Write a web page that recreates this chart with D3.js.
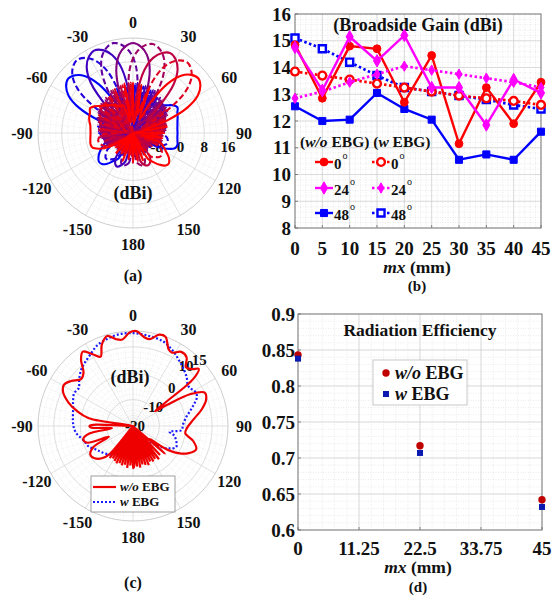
<!DOCTYPE html>
<html>
<head>
<meta charset="utf-8">
<script src="https://cdn.jsdelivr.net/npm/d3@7/dist/d3.min.js"></script>
<style>
body { margin: 0; background: #fff; }
svg text { font-family: "Liberation Serif", "Times New Roman", serif; font-weight: bold; fill: #111; }
</style>
</head>
<body>
<svg id="fig" width="558" height="596"></svg>
<script>
// ---------- (a) beam patterns (dBi), one value every 5 deg ----------
var beamSteer  = [-50, -37.5, -25, -12.5, 0, 12.5, 25, 37.5, 50];
var beamStart  = [-180, -177.5, -180, -177.5, -180, -177.5, -180, -177.5, -180];
var beamDashed = [false, true, false, true, false, true, false, true, false];

var beam1 = [-8.5,-16,-8,-16,-9,-13,-6,-4.5,-2.5,-1.2,-1,-1.8,
  -3,-4.5,-6,-16,-6.5,-11,-4.5,-16,-4,-12,-4,4,
  9,11.5,12.5,11.5,9,4,-4,-10,0,-12,0.5,-9,
  0.5,-11,0,-16,-6,-6,-5.3,-4.5,-3.8,-2.8,-1.5,0.3,
  1.3,0.5,0,-0.5,-0.8,-1,-1,-1,-0.8,-0.5,-1,-3.5,
  -6.7,-13,-8.5,-16,-9,-16,-8,-16,-9,-16,-8,-16];
var beam2 = [-9,-16,-8.5,-16,-9,-16,-6,-5,-3.7,-3.5,-4.5,-6,
  -12,-6.5,-16,-6,-10,-5,-13,-4.5,-11,-4,-3,-16,
  -4,6.5,11.5,14,15,14,11.5,6.5,-4,-12,0,-10,
  0.5,-13,0,-9,-0.5,-16,-1.5,-11,-2,-12,-2.5,-16,
  -3.5,-11,-4.5,-16,-5,-12,-6,-4.5,-4,-4,-5,-6.5,
  -16,-8.5,-16,-9,-13,-8.5,-16,-9,-16,-8.5,-16,-9];
var beam3 = [-16,-9,-16,-6,-4.5,-3.5,-4,-6,-13,-8.5,-16,-9,
  -12,-6,-16,-6.5,-11,-5,-13,-4.5,-10,-4.5,-12,-3.5,
  -10,-2,-13,-4,6.2,11.2,13.7,14.7,13.7,11.2,6.2,-4,
  -16,1,-9,0.5,-12,0,-10,-1.5,-16,-2,-11,-2.5,
  -13,-4,-10,-4.5,-16,-5,-12,-6,-11,-6,-16,-6.5,
  -13,-8.5,-16,-9,-16,-8.5,-16,-9,-16,-9,-13,-8.5];
var beam4 = [-16,-6,-5,-4.5,-5.5,-16,-9,-16,-8.5,-16,-9,-13,
  -6.5,-12,-6,-16,-5,-11,-4.5,-13,-4,-10,-3,-12,
  -2.5,-9,-1.5,-13,-16,-4,6.5,11.5,14,15,14,11.5,
  6.5,-4,-12,0.5,-10,0,-16,-1,-11,-1.5,-9,-2,
  -12,-3.5,-16,-4.5,-10,-5.5,-13,-6,-11,-6,-16,-6.5,
  -16,-8.5,-16,-9,-13,-8.5,-16,-9,-16,-8.5,-16,-8];
var beam5 = [-6,-13,-8,-16,-8.5,-16,-9,-16,-8.5,-13,-9,-16,
  -6.5,-11,-6,-13,-5.5,-12,-5,-10,-4.5,-16,-3.5,-11,
  -2.5,-12,-2,-9,-1.5,-13,-0.5,-10,-4,5.8,10.8,13.3,
  14.3,13.3,10.8,5.8,-4,-11,-0.5,-16,-1.5,-9,-2,-12,
  -3,-10,-4,-13,-4.5,-11,-5.5,-16,-6.5,-12,-6,-16,
  -8.5,-16,-9,-16,-8.5,-13,-9,-16,-8,-16,-6.5,-12];
var beam6 = [-8,-16,-9,-16,-8.5,-13,-9,-16,-8.5,-16,-9,-16,
  -6.5,-13,-6,-11,-5,-12,-4.5,-16,-4,-10,-3,-13,
  -2,-11,-1.5,-9,-1,-16,0,-10,0.5,-12,-4,6.2,
  11.2,13.7,14.7,13.7,11.2,6.2,-4,-13,-1,-10,-2,-12,
  -3,-16,-4.5,-11,-5,-13,-6,-12,-6.5,-16,-6,-13,
  -8.5,-16,-9,-16,-8.5,-16,-9,-5.5,-4.5,-5,-6,-13];
var beam7 = [-16,-8.5,-16,-9,-13,-9,-16,-8.5,-16,-9,-16,-8.5,
  -11,-6.5,-13,-6,-10,-5,-12,-4.5,-16,-4.5,-11,-3.5,
  -9,-2.5,-12,-2,-16,-1.5,-10,0,-13,0.5,-11,1,
  -12,-4,5.2,10.2,12.7,13.7,12.7,10.2,5.2,-4,-10,-2.5,
  -13,-4,-11,-4.5,-16,-5,-10,-6,-12,-6,-16,-6.5,
  -16,-8,-16,-9,-13,-6,-4.5,-4,-4.5,-6,-16,-9];
var beam8 = [-16,-8.5,-16,-9,-16,-8.5,-13,-9,-16,-8.5,-16,-9,
  -6.5,-5,-4.2,-4,-4.5,-6,-12,-4.5,-16,-4,-11,-3,
  -13,-2,-10,-1.5,-12,-1,-9,0,-16,0.5,-11,1,
  -12,0.5,-10,-4,5.5,10.5,13,14,13,10.5,5.5,-4,
  -11,-4,-13,-4.5,-10,-5.5,-16,-6,-12,-6.5,-16,-6,
  -4.5,-3.8,-4,-5,-6,-16,-9,-16,-8.5,-13,-9,-16];
var beam9 = [-6,-13,-7,-16,-6,-12,-8,-16,-7,-16,-8.5,-13,
  -6.5,-3.5,-1.5,-1.2,-1.4,-1.6,-1.7,-1.6,-1.4,-0.8,-0.3,0,
  0.7,-0.3,-1.8,-2.8,-3.8,-4.5,-5.3,-6,-6,-12,1,-10,
  1,-13,0.5,-9,0,-11,-4,4.2,9.2,11.7,12.7,11.7,
  9.2,4.2,-4,-12,-4.5,-16,-5.5,-10,-6,-13,-6,-4.5,
  -3,-1.2,-0.2,-0.5,-2,-4,-6,-16,-6,-16,-6.5,-12];
var beams = [beam1, beam2, beam3, beam4, beam5, beam6, beam7, beam8, beam9];

// ---------- (b) broadside gain vs mx ----------
var mxB = [0, 5, 10, 15, 20, 25, 30, 35, 40, 45];
var gain0_wo  = [14.85, 12.85, 14.8, 14.7, 12.7, 14.45, 11.15, 13.25, 11.9, 13.45];
var gain0_w   = [13.85, 13.7, 13.55, 13.4, 13.25, 13.1, 12.95, 12.85, 12.75, 12.6];
var gain24_wo = [14.75, 13.15, 15.15, 14.25, 15.2, 13.25, 13.25, 11.85, 13.55, 13.05];
var gain24_w  = [12.85, 13.1, 13.45, 13.75, 14.05, 13.9, 13.75, 13.6, 13.45, 13.25];
var gain48_wo = [12.55, 12.0, 12.05, 13.05, 12.45, 12.05, 10.55, 10.75, 10.55, 11.6];
var gain48_w  = [15.1, 14.7, 14.2, 13.7, 13.25, 13.1, 12.95, 12.8, 12.6, 12.45];

// ---------- (c) pattern with / without EBG, [angle deg, dBi] ----------
var patC_wo = [[-180,-4],[-178,-20],[-176,-5],[-174,-20],[-172,-4],[-170,-20],[-168,-5],[-166,-20],[-164,-4.5],[-162,-20],
  [-160,-5],[-158,-20],[-156,-4.5],[-154,-20],[-152,-5],[-150,-20],[-148,-5.5],[-146,-20],[-144,-5],[-142,-20],
  [-140,-6],[-136,-3],[-130,-1],[-124,-0.5],[-118,-3],[-114,-10],[-110,-1.5],[-105,-0.5],[-100,-3],[-96,-12],
  [-92,-4],[-90,-3.5],[-88,-6],[-85,-20],[-80,-3],[-75,2],[-70,6],[-64,9.5],[-59,10.5],[-54,9],[-48,6.5],[-43,7.5],
  [-38,12],[-34,14],[-29,11],[-25,9],[-21,13],[-16,15.5],[-11,13.5],[-7,13],[-2,15.5],[2,16.5],[7,14],[11,13.5],
  [16,16],[20,16],[25,12],[28,11.5],[33,13.5],[38,13],[42,10],[46,11],[49,13],[52,9],[54,-5],[56,-10],[58,-5],
  [61,5],[65,10],[70,9.5],[76,7],[84,3],[92,0.5],[98,0],[104,3.5],[110,5.5],[116,3.5],[121,0],[125,-5],[128,-12],
  [131,-4],[134,-20],[137,-5],[140,-20],[142,-4],[144,-20],[146,-5],[148,-20],[150,-4.5],[152,-20],[154,-5],
  [156,-20],[158,-4],[160,-20],[162,-4.5],[164,-20],[166,-5],[168,-20],[170,-4],[172,-20],[174,-4.5],[176,-20],[178,-5]];
var patC_w = [[-180,-14],[-172,-11],[-166,-15],[-160,-12],[-154,-10],[-148,-8],[-140,-6],[-130,-4.5],[-124,-3.7],
  [-115,-1.5],[-106,-0.5],[-98,1.5],[-91,2.5],[-84,2.9],[-75,3.5],[-68,4.5],[-61,5.5],[-55,5.1],[-49,7],[-43,8.9],
  [-38,10],[-31,11.5],[-24,13.4],[-16,14.5],[-8,15.2],[0,15.2],[8,14.8],[19,14.1],[27,12.5],[35,10.4],[42,8.8],
  [48,7.4],[53,6],[56,5.9],[59,6.5],[62,7],[66,6.5],[70,4.7],[75,2.5],[80,0.6],[88,-1],[95,-1.6],[99,-6],[103,-4],
  [110,-2.5],[116,-1.8],[121,-3.5],[126,-6.1],[132,-10],[138,-12],[144,-11],[150,-14],[156,-12],[162,-15],[168,-12],[174,-14]];

// ---------- (d) radiation efficiency ----------
var mxD = [0, 22.5, 45];
var eff_wo = [0.843, 0.717, 0.642];
var eff_w  = [0.838, 0.707, 0.632];

var thetaTicks  = [0, 30, 60, 90, 120, 150, 180, 210, 240, 270, 300, 330];
var thetaLabels = ["0", "30", "60", "90", "120", "150", "180", "-150", "-120", "-90", "-60", "-30"];

var svg = d3.select("#fig");
var rad = Math.PI / 180;

// POLAR AXES: GRID + ANGLE LABELS
function polarAxes(cx, cy, R, r, majors, minorStep) {
  var g = svg.append("g").attr("transform", "translate(" + cx + "," + cy + ")");
  var dom = r.domain();
  d3.range(dom[0], dom[1] + 1e-6, minorStep).forEach(function(v) {
    g.append("circle").attr("r", r(v)).attr("fill", "none")
      .attr("stroke", "#d8d8d8").attr("stroke-width", 0.5).attr("stroke-dasharray", "1,1.5");
  });
  d3.range(0, 360, 6).forEach(function(a) {
    if (a % 30 == 0) return;
    g.append("line").attr("x2", R * Math.sin(a * rad)).attr("y2", -R * Math.cos(a * rad))
      .attr("stroke", "#dcdcdc").attr("stroke-width", 0.5).attr("stroke-dasharray", "1,1.5");
  });
  majors.forEach(function(v) {
    g.append("circle").attr("r", r(v)).attr("fill", "none").attr("stroke", "#d4d4d4").attr("stroke-width", 0.7);
  });
  thetaTicks.forEach(function(a) {
    g.append("line").attr("x2", R * Math.sin(a * rad)).attr("y2", -R * Math.cos(a * rad))
      .attr("stroke", "#d4d4d4").attr("stroke-width", 0.7);
  });
  g.append("circle").attr("r", R).attr("fill", "none").attr("stroke", "#c4c4c4").attr("stroke-width", 0.8);
  thetaTicks.forEach(function(a, i) {
    g.append("text").attr("x", (R + 16) * Math.sin(a * rad)).attr("y", -(R + 16) * Math.cos(a * rad))
      .attr("dy", "0.35em").attr("text-anchor", "middle").style("font-size", "16px").text(thetaLabels[i]);
  });
  return g;
}

// ===== (a) =====
var R = 95;
var rA = d3.scaleLinear().domain([-16, 16]).range([0, R]).clamp(true);
var gA = polarAxes(133, 133, R, rA, [-8, 0, 8], 2);
[-16, -8, 0, 8, 16].forEach(function(v) {
  gA.append("text").attr("x", rA(v)).attr("y", 14).attr("dy", "0.35em").attr("text-anchor", "middle")
    .style("font-size", "15px").text(v);
});
var beamColor = d3.interpolateRgb("#0000ff", "#ff0000");
var radialA = d3.lineRadial()
  .angle(function(d) { return d[0] * rad; })
  .radius(function(d) { return rA(d[1]); })
  .curve(d3.curveCatmullRomClosed.alpha(0.5));
beams.forEach(function(b, k) {
  var pts = b.map(function(v, i) { return [beamStart[k] + 5 * i, v]; });
  gA.append("path").datum(pts).attr("d", radialA).attr("fill", "none")
    .attr("stroke", beamColor(k / 8)).attr("stroke-width", 2.1)
    .attr("stroke-dasharray", beamDashed[k] ? "6,3" : null);
});
svg.append("text").attr("x", 133).attr("y", 199).attr("text-anchor", "middle").style("font-size", "18px").text("(dBi)");
svg.append("text").attr("x", 133).attr("y", 281).attr("text-anchor", "middle").style("font-size", "16px").text("(a)");

// ===== (c) =====
var rC = d3.scaleLinear().domain([-20, 16]).range([0, R]).clamp(true);
var gC = polarAxes(133, 426, R, rC, [-10, 0, 10], 2);
[-20, -10, 0, 10, 15].forEach(function(v) {
  var a = (v == 10 ? 40 : 44) * rad;
  gC.append("text").attr("x", rC(v) * Math.sin(a) + 2).attr("y", -rC(v) * Math.cos(a))
    .attr("dy", "0.35em").attr("text-anchor", "middle").style("font-size", "15px").text(v);
});
var radialC = d3.lineRadial()
  .angle(function(d) { return d[0] * rad; })
  .radius(function(d) { return rC(d[1]); })
  .curve(d3.curveCatmullRomClosed.alpha(0.5));
gC.append("path").datum(patC_w).attr("d", radialC).attr("fill", "none")
  .attr("stroke", "#1a1aff").attr("stroke-width", 2.2).attr("stroke-dasharray", "2,2");
gC.append("path").datum(patC_wo).attr("d", radialC).attr("fill", "none")
  .attr("stroke", "#ee0000").attr("stroke-width", 2.2);
svg.append("text").attr("x", 130).attr("y", 383).attr("text-anchor", "middle").style("font-size", "18px").text("(dBi)");
svg.append("text").attr("x", 133).attr("y", 588).attr("text-anchor", "middle").style("font-size", "16px").text("(c)");

// legend (c)
var legC = svg.append("g");
legC.append("rect").attr("x", 91).attr("y", 476).attr("width", 84).attr("height", 36)
  .attr("fill", "#fff").attr("stroke", "#888").attr("stroke-width", 0.8);
legC.append("line").attr("x1", 93).attr("x2", 116).attr("y1", 487).attr("y2", 487).attr("stroke", "#ee0000").attr("stroke-width", 2.2);
legC.append("line").attr("x1", 93).attr("x2", 116).attr("y1", 502).attr("y2", 502).attr("stroke", "#1a1aff")
  .attr("stroke-width", 2.2).attr("stroke-dasharray", "2,2");
var t1 = legC.append("text").attr("x", 120).attr("y", 491).style("font-size", "13px");
t1.append("tspan").style("font-style", "italic").text("w/o");
t1.append("tspan").text(" EBG");
var t2 = legC.append("text").attr("x", 120).attr("y", 506).style("font-size", "13px");
t2.append("tspan").style("font-style", "italic").text("w");
t2.append("tspan").text(" EBG");

// CARTESIAN GRID HELPER
function cartGrid(x, y, xMinor, yMinor, xTicks, yTicks) {
  var g = svg.append("g");
  var x0 = x.range()[0], x1 = x.range()[1], y0 = y.range()[0], y1 = y.range()[1];
  g.append("rect").attr("x", x0).attr("y", y1).attr("width", x1 - x0).attr("height", y0 - y1).attr("fill", "#fff");
  xMinor.forEach(function(v) {
    g.append("line").attr("x1", x(v)).attr("x2", x(v)).attr("y1", y0).attr("y2", y1)
      .attr("stroke", "#d6d6d6").attr("stroke-width", 0.5).attr("stroke-dasharray", "1,1.5");
  });
  yMinor.forEach(function(v) {
    g.append("line").attr("y1", y(v)).attr("y2", y(v)).attr("x1", x0).attr("x2", x1)
      .attr("stroke", "#d6d6d6").attr("stroke-width", 0.5).attr("stroke-dasharray", "1,1.5");
  });
  xTicks.forEach(function(v) {
    g.append("line").attr("x1", x(v)).attr("x2", x(v)).attr("y1", y0).attr("y2", y1).attr("stroke", "#cfcfcf").attr("stroke-width", 0.7);
    g.append("line").attr("x1", x(v)).attr("x2", x(v)).attr("y1", y0).attr("y2", y0 - 3).attr("stroke", "#555").attr("stroke-width", 0.7);
  });
  yTicks.forEach(function(v) {
    g.append("line").attr("y1", y(v)).attr("y2", y(v)).attr("x1", x0).attr("x2", x1).attr("stroke", "#cfcfcf").attr("stroke-width", 0.7);
    g.append("line").attr("y1", y(v)).attr("y2", y(v)).attr("x1", x0).attr("x2", x0 + 3).attr("stroke", "#555").attr("stroke-width", 0.7);
  });
  g.append("rect").attr("x", x0).attr("y", y1).attr("width", x1 - x0).attr("height", y0 - y1)
    .attr("fill", "none").attr("stroke", "#666").attr("stroke-width", 0.8);
  return g;
}

// ===== (b) =====
var xB = d3.scaleLinear().domain([0, 45]).range([295, 541]);
var yB = d3.scaleLinear().domain([8, 16]).range([228, 14]);
cartGrid(xB, yB, d3.range(0, 46, 1), d3.range(8, 16.01, 0.2), mxB, d3.range(8, 17, 1));
d3.range(8, 17, 1).forEach(function(v) {
  svg.append("text").attr("x", 291).attr("y", yB(v)).attr("dy", "0.35em").attr("text-anchor", "end").style("font-size", "19px").text(v);
});
mxB.forEach(function(v) {
  svg.append("text").attr("x", xB(v)).attr("y", 254.5).attr("text-anchor", "middle").style("font-size", "19px").text(v);
});
svg.append("text").attr("x", 418).attr("y", 31).attr("text-anchor", "middle").style("font-size", "18px").text("(Broadside Gain (dBi)");

var seriesB = [
  { v: gain0_wo,  c: "#ff0000", dash: null,      m: "circle",  open: false },
  { v: gain0_w,   c: "#ff0000", dash: "2.5,2.5", m: "circle",  open: true },
  { v: gain24_wo, c: "#ff00ff", dash: null,      m: "diamond", open: false },
  { v: gain24_w,  c: "#ff00ff", dash: "2.5,2.5", m: "diamond", open: false },
  { v: gain48_wo, c: "#0000ff", dash: null,      m: "square",  open: false },
  { v: gain48_w,  c: "#0000ff", dash: "2.5,2.5", m: "square",  open: true }
];
var symType = { circle: d3.symbolCircle, diamond: d3.symbolDiamond, square: d3.symbolSquare };
var symSize = { circle: 48, diamond: 44, square: 50 };
function marker(g, s, x, y, small) {
  g.append("path").attr("transform", "translate(" + x + "," + y + ")")
    .attr("d", d3.symbol().type(symType[s.m]).size(small ? symSize[s.m] * 0.7 : symSize[s.m]))
    .attr("fill", s.open ? "#fff" : s.c).attr("stroke", s.c).attr("stroke-width", s.open ? 2.4 : 1);
}
var lineB = d3.line().x(function(d, i) { return xB(mxB[i]); }).y(function(d) { return yB(d); });
var gB = svg.append("g");
[4, 5, 0, 1, 3, 2].forEach(function(k) {
  var s = seriesB[k];
  gB.append("path").datum(s.v).attr("d", lineB).attr("fill", "none").attr("stroke", s.c)
    .attr("stroke-width", s.dash ? 2.7 : 2.4).attr("stroke-dasharray", s.dash);
  s.v.forEach(function(v, i) { marker(gB, s, xB(mxB[i]), yB(v), s.dash && !s.open); });
});

// legend (b)
var legB = svg.append("g");
var hdr = legB.append("text").attr("x", 300).attr("y", 147).style("font-size", "15.5px");
hdr.append("tspan").text("(");
hdr.append("tspan").style("font-style", "italic").text("w/o");
hdr.append("tspan").text(" EBG) (");
hdr.append("tspan").style("font-style", "italic").text("w");
hdr.append("tspan").text(" EBG)");
var legAngles = ["0", "24", "48"];
var legRows = [162, 188, 213];
[0, 1, 2].forEach(function(r) {
  [0, 1].forEach(function(col) {
    var s = seriesB[r * 2 + col];
    var x1 = col ? 372 : 315, x2 = col ? 390 : 333;
    legB.append("line").attr("x1", x1).attr("x2", x2).attr("y1", legRows[r]).attr("y2", legRows[r])
      .attr("stroke", s.c).attr("stroke-width", 2.4).attr("stroke-dasharray", s.dash);
    marker(legB, s, (x1 + x2) / 2, legRows[r], s.dash && !s.open);
    legB.append("text").attr("x", x2 + 1).attr("y", legRows[r] + 7).style("font-size", "15px").text(legAngles[r]);
    legB.append("text").attr("x", x2 + 2 + legAngles[r].length * 7.5).attr("y", legRows[r] - 3)
      .style("font-size", "10px").style("font-weight", "normal").text("o");
  });
});
var xtB = svg.append("text").attr("x", 417).attr("y", 272.5).attr("text-anchor", "middle").style("font-size", "17.5px");
xtB.append("tspan").style("font-style", "italic").text("mx");
xtB.append("tspan").text(" (mm)");
svg.append("text").attr("x", 417).attr("y", 291).attr("text-anchor", "middle").style("font-size", "15px").text("(b)");

// ===== (d) =====
var xTicksD = [0, 11.25, 22.5, 33.75, 45];
var yTicksD = [0.6, 0.65, 0.7, 0.75, 0.8, 0.85, 0.9];
var xD = d3.scaleLinear().domain([0, 45]).range([298, 542]);
var yD = d3.scaleLinear().domain([0.6, 0.9]).range([530, 314]);
cartGrid(xD, yD, d3.range(0, 45.01, 2.25), d3.range(0.6, 0.901, 0.01), xTicksD, yTicksD);
yTicksD.forEach(function(v) {
  svg.append("text").attr("x", 295).attr("y", yD(v)).attr("dy", "0.35em").attr("text-anchor", "end")
    .style("font-size", "19px").text(v);
});
xTicksD.forEach(function(v) {
  svg.append("text").attr("x", xD(v)).attr("y", 554.5).attr("text-anchor", "middle").style("font-size", "19px").text(v);
});
svg.append("text").attr("x", 420).attr("y", 336).attr("text-anchor", "middle").style("font-size", "17.5px").text("Radiation Efficiency");
var gD = svg.append("g");
eff_wo.forEach(function(v, i) {
  gD.append("circle").attr("cx", xD(mxD[i])).attr("cy", yD(v)).attr("r", 3.7).attr("fill", "#c00000");
});
eff_w.forEach(function(v, i) {
  gD.append("rect").attr("x", xD(mxD[i]) - 3).attr("y", yD(v) - 3).attr("width", 6).attr("height", 6).attr("fill", "#0a1ab0");
});
var legD = svg.append("g");
legD.append("rect").attr("x", 373).attr("y", 360).attr("width", 94).attr("height", 45)
  .attr("fill", "#fff").attr("stroke", "#bbb").attr("stroke-width", 0.8);
legD.append("circle").attr("cx", 386).attr("cy", 373).attr("r", 3.7).attr("fill", "#c00000");
legD.append("rect").attr("x", 383).attr("y", 391).attr("width", 6).attr("height", 6).attr("fill", "#0a1ab0");
var d1 = legD.append("text").attr("x", 395).attr("y", 379).style("font-size", "18px");
d1.append("tspan").style("font-style", "italic").text("w/o");
d1.append("tspan").text(" EBG");
var d2 = legD.append("text").attr("x", 395).attr("y", 400).style("font-size", "18px");
d2.append("tspan").style("font-style", "italic").text("w");
d2.append("tspan").text(" EBG");
var xtD = svg.append("text").attr("x", 418).attr("y", 572.5).attr("text-anchor", "middle").style("font-size", "17.5px");
xtD.append("tspan").style("font-style", "italic").text("mx");
xtD.append("tspan").text(" (mm)");
svg.append("text").attr("x", 418).attr("y", 592).attr("text-anchor", "middle").style("font-size", "15px").text("(d)");
</script>
</body>
</html>
